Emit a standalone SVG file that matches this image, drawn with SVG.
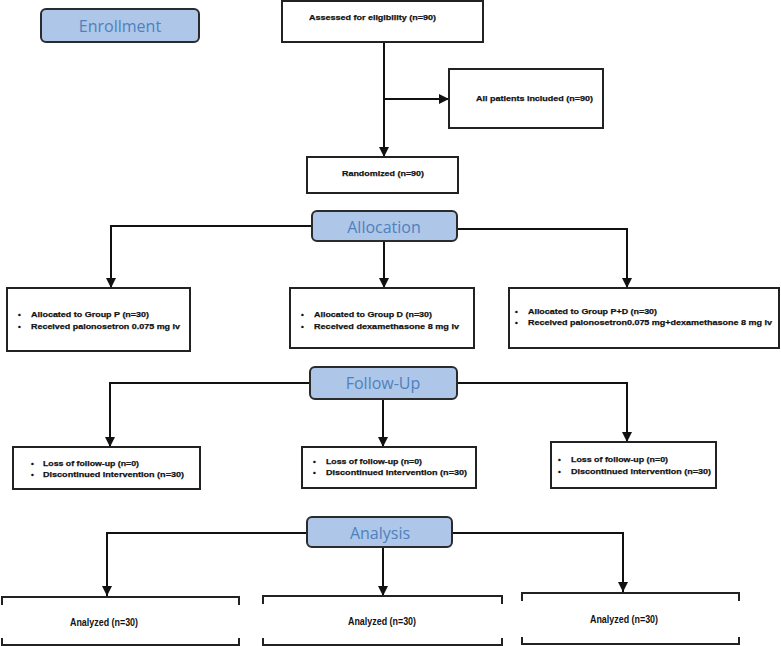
<svg xmlns="http://www.w3.org/2000/svg" width="781" height="646" viewBox="0 0 781 646">
<defs>
<marker id="ah" markerUnits="userSpaceOnUse" markerWidth="10" markerHeight="10" refX="10" refY="5" orient="auto" viewBox="0 0 10 10">
<path d="M0,0 L10,5 L0,10 z" fill="#111"/>
</marker>
<style>
.stage rect{fill:#aec6e8;stroke:#2b2b2b;stroke-width:2}
.stage text{font-family:"Open Sans","Liberation Sans",sans-serif;font-size:16px;fill:#4f81bd;text-anchor:middle}
.box{fill:#fff;stroke:#222;stroke-width:2}
.t{font-family:"Liberation Sans",Arial,sans-serif;font-weight:bold;font-size:8px;fill:#111;stroke:#111;stroke-width:0.25}
.an{font-family:"Liberation Sans",Arial,sans-serif;font-weight:bold;font-size:10px;fill:#111;text-anchor:middle}
.br{fill:none;stroke:#222;stroke-width:2}
#connectors path{fill:none;stroke:#111;stroke-width:2;marker-end:url(#ah)}
</style>
</defs>
<rect width="781" height="646" fill="#fff"/>

<g id="connectors">
<path d="M384,42 V157"/>
<path d="M384,99 H449"/>
<path d="M312,226 H111 V288"/>
<path d="M384,241 V288"/>
<path d="M457,229 H627 V288"/>
<path d="M310,383 H110 V447"/>
<path d="M383,399 V447"/>
<path d="M457,383 H627 V442"/>
<path d="M307,533 H107 V596"/>
<path d="M383,547 V596"/>
<path d="M452,533 H623 V592"/>
</g>

<g id="enrollment" class="stage"><rect x="41" y="9" width="158" height="33" rx="5"/><text x="120" y="32">Enrollment</text></g>
<g id="allocation" class="stage"><rect x="312" y="211" width="145" height="30" rx="5"/><text x="384" y="233">Allocation</text></g>
<g id="followup" class="stage"><rect x="310" y="367" width="147" height="32" rx="5"/><text x="383" y="389">Follow-Up</text></g>
<g id="analysis" class="stage"><rect x="307" y="517" width="145" height="30" rx="5"/><text x="380" y="539">Analysis</text></g>

<g id="assessed"><rect class="box" x="282" y="1" width="201" height="41"/><text class="t" x="309" y="20" textLength="127" lengthAdjust="spacingAndGlyphs">Assessed for eligibility (n=90)</text></g>
<g id="included"><rect class="box" x="449" y="69" width="154" height="59"/><text class="t" x="476" y="101" textLength="117" lengthAdjust="spacingAndGlyphs">All patients included (n=90)</text></g>
<g id="randomized"><rect class="box" x="307" y="157" width="151" height="36"/><text class="t" x="342" y="176" textLength="82" lengthAdjust="spacingAndGlyphs">Randomized (n=90)</text></g>

<g id="groupP"><rect class="box" x="7" y="288" width="183" height="63"/>
<text class="t" x="18" y="317">•</text><text class="t" x="31" y="317" textLength="118" lengthAdjust="spacingAndGlyphs">Allocated to Group P (n=30)</text>
<text class="t" x="18" y="329">•</text><text class="t" x="31" y="329" textLength="149" lengthAdjust="spacingAndGlyphs">Received palonosetron 0.075 mg iv</text></g>
<g id="groupD"><rect class="box" x="290" y="288" width="184" height="60"/>
<text class="t" x="301" y="317">•</text><text class="t" x="314" y="317" textLength="118" lengthAdjust="spacingAndGlyphs">Allocated to Group D (n=30)</text>
<text class="t" x="301" y="329">•</text><text class="t" x="314" y="329" textLength="145" lengthAdjust="spacingAndGlyphs">Received dexamethasone 8 mg iv</text></g>
<g id="groupPD"><rect class="box" x="509" y="288" width="270" height="60"/>
<text class="t" x="515" y="314">•</text><text class="t" x="528" y="314" textLength="129" lengthAdjust="spacingAndGlyphs">Allocated to Group P+D (n=30)</text>
<text class="t" x="515" y="325">•</text><text class="t" x="528" y="325" textLength="244" lengthAdjust="spacingAndGlyphs">Received palonosetron0.075 mg+dexamethasone 8 mg iv</text></g>

<g id="fu1"><rect class="box" x="13" y="447" width="187" height="42"/>
<text class="t" x="31" y="466">•</text><text class="t" x="43" y="466" textLength="96" lengthAdjust="spacingAndGlyphs">Loss of follow-up (n=0)</text>
<text class="t" x="31" y="477">•</text><text class="t" x="43" y="477" textLength="141" lengthAdjust="spacingAndGlyphs">Discontinued intervention (n=30)</text></g>
<g id="fu2"><rect class="box" x="302" y="447" width="174" height="41"/>
<text class="t" x="313" y="464">•</text><text class="t" x="326" y="464" textLength="96" lengthAdjust="spacingAndGlyphs">Loss of follow-up (n=0)</text>
<text class="t" x="313" y="475">•</text><text class="t" x="326" y="475" textLength="141" lengthAdjust="spacingAndGlyphs">Discontinued intervention (n=30)</text></g>
<g id="fu3"><rect class="box" x="551" y="442" width="165" height="46"/>
<text class="t" x="558" y="462">•</text><text class="t" x="571" y="462" textLength="97" lengthAdjust="spacingAndGlyphs">Loss of follow-up (n=0)</text>
<text class="t" x="558" y="474">•</text><text class="t" x="571" y="474" textLength="140" lengthAdjust="spacingAndGlyphs">Discontinued intervention (n=30)</text></g>

<g id="an1"><path class="br" d="M2,605 V597 H239 V605 M2,638 V645 H239 V638"/><text class="an" x="104" y="626" textLength="68" lengthAdjust="spacingAndGlyphs">Analyzed (n=30)</text></g>
<g id="an2"><path class="br" d="M263,604 V596 H502 V604 M263,638 V645 H502 V638"/><text class="an" x="382" y="625" textLength="68" lengthAdjust="spacingAndGlyphs">Analyzed (n=30)</text></g>
<g id="an3"><path class="br" d="M522,601 V593 H739 V601 M522,637 V644 H739 V637"/><text class="an" x="624" y="623" textLength="68" lengthAdjust="spacingAndGlyphs">Analyzed (n=30)</text></g>
</svg>
